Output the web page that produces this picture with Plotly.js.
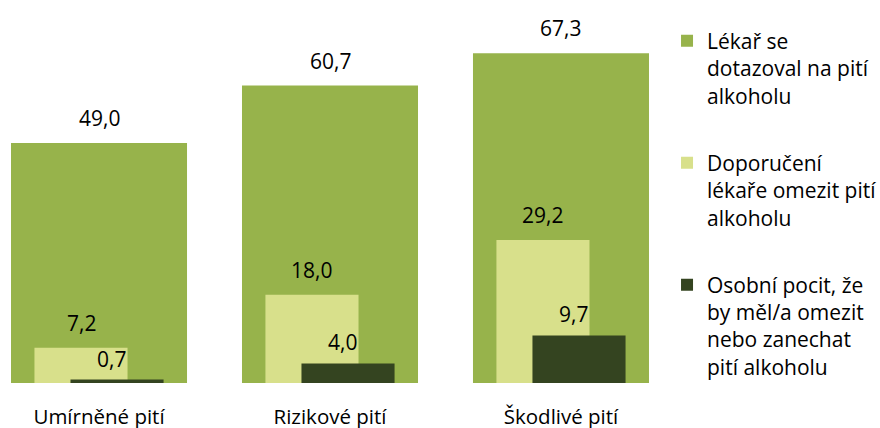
<!DOCTYPE html>
<html>
<head>
<meta charset="utf-8">
<script src="https://cdn.plot.ly/plotly-3.0.1.min.js"></script>
<style>html,body{margin:0;padding:0;background:#fff;}#chart{width:880px;height:428px;}</style>
</head>
<body>
<div id="chart"></div>
<script>
var categories = ["Umírněné pití", "Rizikové pití", "Škodlivé pití"];
var seriesNames = [
  "Lékař se<br>dotazoval na pití<br>alkoholu",
  "Doporučení<br>lékaře omezit pití<br>alkoholu",
  "Osobní pocit, že<br>by měl/a omezit<br>nebo zanechat<br>pití alkoholu"
];
var askedValues = [49.0, 60.7, 67.3];
var adviceValues = [7.2, 18.0, 29.2];
var feelingValues = [0.7, 4.0, 9.7];

var colors = ["#97b34b", "#d8e08b", "#344420"];
var FONT = "Open Sans, Noto Sans, sans-serif";

var wBig = 0.762, wSmall = 0.403, shift = 0.078;
var series = [
  {vals: askedValues, width: wBig, center: 0, ys: 9, xs: 0},
  {vals: adviceValues, width: wSmall, center: -shift, ys: 9, xs: 0},
  {vals: feelingValues, width: wSmall, center: shift, ys: 5, xs: -6}
];

var traces = series.map(function (s, k) {
  return {
    type: "bar",
    name: seriesNames[k],
    x: categories,
    y: s.vals,
    width: categories.map(function () { return s.width; }),
    offset: categories.map(function () { return s.center - s.width / 2; }),
    marker: {color: colors[k], line: {width: 0}},
    legendgroup: "g" + k,
    hoverinfo: "none"
  };
});

var annotations = [];
series.forEach(function (s, k) {
  s.vals.forEach(function (v, i) {
    annotations.push({
      x: i + s.center, y: v, xref: "x", yref: "y",
      text: v.toFixed(1).replace(".", ","),
      showarrow: false, yanchor: "bottom", xanchor: "center",
      yshift: s.ys, xshift: s.xs,
      font: {family: FONT, size: 21, color: "#000"}
    });
  });
});

var layout = {
  width: 880, height: 428,
  margin: {l: 5, r: 225, t: 0, b: 45, autoexpand: false},
  barmode: "overlay",
  paper_bgcolor: "#fff", plot_bgcolor: "#fff",
  font: {family: FONT, size: 20, color: "#000"},
  xaxis: {
    type: "category", range: [-0.407, 2.407],
    showgrid: false, zeroline: false, showline: false, ticks: "",
    ticklabelstandoff: 19, automargin: false,
    tickfont: {family: FONT, size: 20.5, color: "#000"}
  },
  yaxis: {
    range: [0, 78.16], showgrid: false, zeroline: false, showline: false,
    showticklabels: false, ticks: "", automargin: false
  },
  showlegend: true,
  legend: {
    x: 1.0185, xanchor: "left", y: 0.946, yanchor: "top",
    font: {family: FONT, size: 21, color: "#000"},
    tracegroupgap: 37, traceorder: "grouped", valign: "top",
    bgcolor: "rgba(0,0,0,0)"
  },
  annotations: annotations
};

Plotly.newPlot("chart", traces, layout, {displayModeBar: false, staticPlot: true});
</script>
</body>
</html>
